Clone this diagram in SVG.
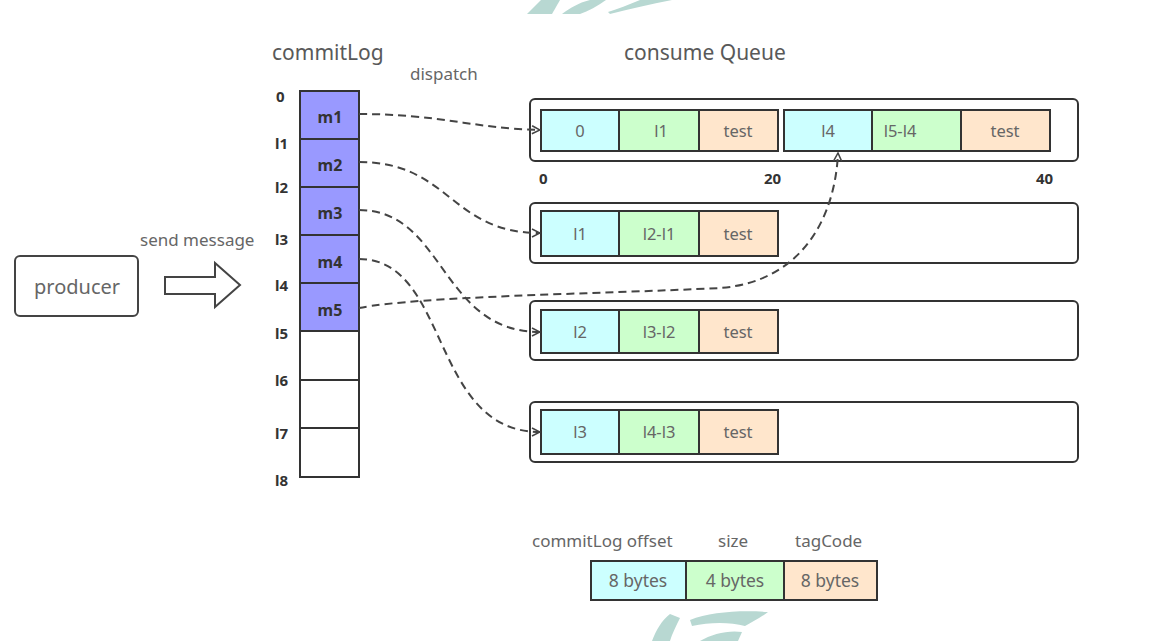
<svg xmlns="http://www.w3.org/2000/svg" width="1167" height="641" viewBox="0 0 1167 641">
<style>
text{font-family:"Noto Sans","Open Sans","Liberation Sans",sans-serif;}
.t{fill:#595959;font-size:21px;}
.s{fill:#666;font-size:17px;}
.n{fill:#333;font-size:15px;font-weight:bold;}
.m{fill:#333;font-size:16px;font-weight:bold;text-anchor:middle;}
.c{fill:#666;font-size:16.5px;text-anchor:middle;}
.lc{fill:#666;font-size:17.5px;text-anchor:middle;}
.cl{stroke:#333;stroke-width:2;fill:#9999ff;}
.ce{stroke:#333;stroke-width:2;fill:#fff;}
.q{stroke:#333;stroke-width:2;fill:#fff;}
.cy{fill:#ccffff;stroke:#333;stroke-width:2;}
.gr{fill:#ccffcc;stroke:#333;stroke-width:2;}
.pe{fill:#ffe6cc;stroke:#333;stroke-width:2;}
.d{fill:none;stroke:#444;stroke-width:2;stroke-dasharray:8 5;}
.wm{fill:#b8d8d2;}
</style>
<defs>
<marker id="ah" viewBox="0 0 10 10" refX="9" refY="5" markerWidth="10" markerHeight="10" markerUnits="userSpaceOnUse" orient="auto">
<path d="M1,1 L9,5 L1,9" fill="none" stroke="#444" stroke-width="1.5"/>
</marker>
</defs>
<rect width="1167" height="641" fill="#fff"/>
<g id="watermark">
<path class="wm" d="M527,14 L541,0 L560,0 L552,14 Z"/>
<path class="wm" d="M562,14 C570,8 578,3 590,0 L606,0 C598,6 588,11 580,14 Z"/>
<path class="wm" d="M610,14 C630,9 650,4 672,0 L640,0 C628,5 618,9 608,12 Z"/>
<path class="wm" d="M652,641 C656,630 662,620 670,614 L680,618 C676,626 672,634 670,641 Z"/>
<path class="wm" d="M690,620 C710,612 740,610 768,612 C760,618 752,622 745,626 C730,622 710,622 692,626 Z"/>
<path class="wm" d="M700,641 C712,634 728,630 742,632 L738,641 Z"/>
</g>
<text class="t" x="272" y="60">commitLog</text>
<text class="s" x="410" y="80">dispatch</text>
<text class="t" x="624" y="60">consume Queue</text>
<g id="producer">
<rect x="15" y="256" width="123" height="60" rx="5" fill="#fff" stroke="#444" stroke-width="2"/>
<text x="77" y="294" fill="#666" font-size="20" text-anchor="middle">producer</text>
</g>
<g id="send">
<text class="s" x="140" y="246" font-size="15.5">send message</text>
<path d="M165,277 L215,277 L215,263 L240,285 L215,307 L215,294 L165,294 Z" fill="#fff" stroke="#444" stroke-width="2"/>
</g>
<g id="commitLog">
<rect class="cl" x="300" y="91" width="59" height="48"/>
<rect class="cl" x="300" y="139" width="59" height="48"/>
<rect class="cl" x="300" y="187" width="59" height="48"/>
<rect class="cl" x="300" y="235" width="59" height="48"/>
<rect class="cl" x="300" y="283" width="59" height="48"/>
<rect class="ce" x="300" y="331" width="59" height="49"/>
<rect class="ce" x="300" y="380" width="59" height="48"/>
<rect class="ce" x="300" y="428" width="59" height="49"/>
<text class="m" x="330" y="123">m1</text>
<text class="m" x="330" y="171">m2</text>
<text class="m" x="330" y="219">m3</text>
<text class="m" x="330" y="268">m4</text>
<text class="m" x="330" y="316">m5</text>
<text class="n" x="276" y="102">0</text>
<text class="n" x="275" y="149">l1</text>
<text class="n" x="275" y="193">l2</text>
<text class="n" x="275" y="245">l3</text>
<text class="n" x="275" y="291">l4</text>
<text class="n" x="275" y="339">l5</text>
<text class="n" x="275" y="386">l6</text>
<text class="n" x="275" y="439">l7</text>
<text class="n" x="275" y="486">l8</text>
</g>
<g id="queue1">
<rect class="q" x="530" y="99" width="548" height="62" rx="5"/>
<rect class="cy" x="541" y="110" width="78" height="41"/>
<rect class="gr" x="619" y="110" width="80" height="41"/>
<rect class="pe" x="699" y="110" width="79" height="41"/>
<rect class="cy" x="784" y="110" width="88" height="41"/>
<rect class="gr" x="872" y="110" width="89" height="41"/>
<rect class="pe" x="961" y="110" width="89" height="41"/>
<text class="c" x="580" y="137">0</text>
<text class="c" x="661" y="137">l1</text>
<text class="c" x="738" y="137">test</text>
<text class="c" x="828" y="137">l4</text>
<text class="c" x="900" y="137">l5-l4</text>
<text class="c" x="1005" y="137">test</text>
<text class="n" x="539" y="184">0</text>
<text class="n" x="764" y="184">20</text>
<text class="n" x="1036" y="184">40</text>
</g>
<g id="queue2">
<rect class="q" x="530" y="203" width="548" height="60" rx="5"/>
<rect class="cy" x="541" y="211" width="78" height="45"/>
<rect class="gr" x="619" y="211" width="80" height="45"/>
<rect class="pe" x="699" y="211" width="79" height="45"/>
<text class="c" x="580" y="240">l1</text>
<text class="c" x="659" y="240">l2-l1</text>
<text class="c" x="738" y="240">test</text>
</g>
<g id="queue3">
<rect class="q" x="530" y="301" width="548" height="59" rx="5"/>
<rect class="cy" x="541" y="310" width="78" height="43"/>
<rect class="gr" x="619" y="310" width="80" height="43"/>
<rect class="pe" x="699" y="310" width="79" height="43"/>
<text class="c" x="580" y="338">l2</text>
<text class="c" x="659" y="338">l3-l2</text>
<text class="c" x="738" y="338">test</text>
</g>
<g id="queue4">
<rect class="q" x="530" y="402" width="548" height="60" rx="5"/>
<rect class="cy" x="541" y="410" width="78" height="44"/>
<rect class="gr" x="619" y="410" width="80" height="44"/>
<rect class="pe" x="699" y="410" width="79" height="44"/>
<text class="c" x="580" y="438">l3</text>
<text class="c" x="659" y="438">l4-l3</text>
<text class="c" x="738" y="438">test</text>
</g>
<g id="legend">
<text class="s" x="532" y="547">commitLog offset</text>
<text class="s" x="718" y="547">size</text>
<text class="s" x="795" y="547">tagCode</text>
<rect class="cy" x="591" y="561" width="95" height="39"/>
<rect class="gr" x="686" y="561" width="98" height="39"/>
<rect class="pe" x="784" y="561" width="93" height="39"/>
<text class="lc" x="638" y="587">8 bytes</text>
<text class="lc" x="735" y="587">4 bytes</text>
<text class="lc" x="830" y="587">8 bytes</text>
</g>
<g id="connectors">
<path class="d" d="M359,114 C440,114 470,128 540,130" marker-end="url(#ah)"/>
<path class="d" d="M359,162 C450,162 450,233 540,233" marker-end="url(#ah)"/>
<path class="d" d="M359,210 C445,210 440,332 540,332" marker-end="url(#ah)"/>
<path class="d" d="M359,259 C450,259 430,432 540,432" marker-end="url(#ah)"/>
<path class="d" d="M359,308 C420,296 600,294 720,288 C800,282 835,220 838,153" marker-end="url(#ah)"/>
</g>
</svg>
